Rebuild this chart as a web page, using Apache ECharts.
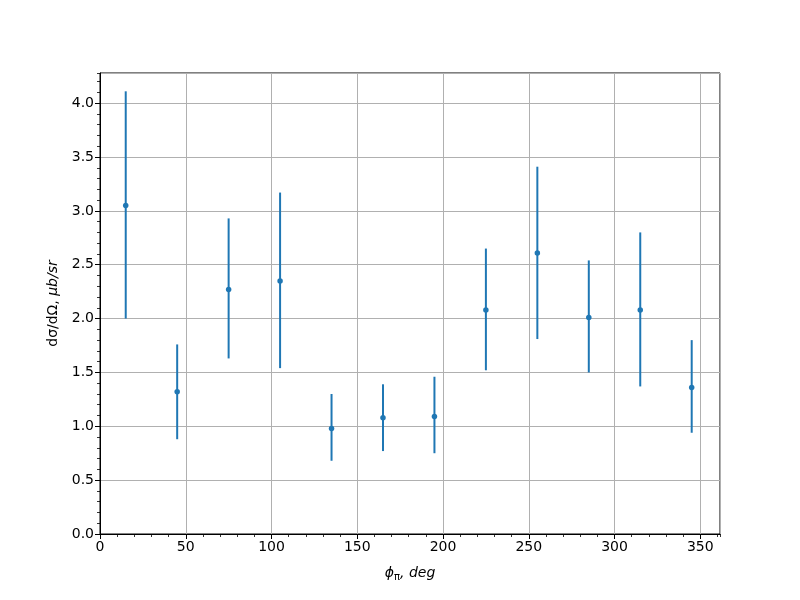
<!DOCTYPE html>
<html>
<head>
<meta charset="utf-8">
<script src="https://cdn.jsdelivr.net/npm/echarts@6/dist/echarts.min.js"></script>
<style>html,body{margin:0;padding:0;background:#fff}#c{width:800px;height:600px}</style>
</head>
<body>
<div id="c"></div>
<script>
const phi = [15, 45, 75, 105, 135, 165, 195, 225, 255, 285, 315, 345];
const xsec = [3.05, 1.32, 2.27, 2.35, 0.98, 1.08, 1.09, 2.08, 2.61, 2.01, 2.08, 1.36];
const errLow = [2.00, 0.88, 1.63, 1.54, 0.68, 0.77, 0.75, 1.52, 1.81, 1.50, 1.37, 0.94];
const errHigh = [4.11, 1.76, 2.93, 3.17, 1.30, 1.39, 1.46, 2.65, 3.41, 2.54, 2.80, 1.80];

const X_MIN = 0, X_MAX = 361.5, Y_MIN = 0, Y_MAX = 4.28;
const C = '#1f77b4';
const font = 'DejaVu Sans';

const points = phi.map((p, i) => [p, xsec[i]]);
const bars = phi.map((p, i) => [p, errLow[i], errHigh[i]]);

const chart = echarts.init(document.getElementById('c'), null, {renderer: 'canvas'});
chart.setOption({
  animation: false,
  backgroundColor: '#fff',
  grid: {left: 100, right: 80, top: 73, bottom: 66, show: true, borderColor: '#000', borderWidth: 1, backgroundColor: 'transparent'},
  xAxis: [
    {
      type: 'value', min: X_MIN, max: X_MAX, interval: 50, position: 'bottom',
      name: '{i|ϕ}{s|π}{i|, deg}', nameLocation: 'middle', nameGap: 30,
      nameTextStyle: {
        rich: {
          i: {fontFamily: font, fontStyle: 'italic', fontSize: 14, color: '#000'},
          s: {fontFamily: font, fontSize: 10, color: '#000', verticalAlign: 'bottom', padding: [8, 0, 0, 0]}
        }
      },
      axisLine: {show: true, onZero: false, lineStyle: {color: '#000', width: 1}},
      axisTick: {show: true, length: 5, lineStyle: {color: '#000', width: 1}},
      axisLabel: {fontFamily: font, fontSize: 14, color: '#000', margin: 6, showMaxLabel: false},
      splitLine: {show: true, lineStyle: {color: '#b0b0b0', width: 1}}
    },
    {
      type: 'value', min: X_MIN, max: X_MAX, interval: 10, position: 'bottom',
      axisLine: {show: false}, axisLabel: {show: false}, splitLine: {show: false},
      axisTick: {show: true, length: 3, lineStyle: {color: '#000', width: 0.8}}
    }
  ],
  yAxis: [
    {
      type: 'value', min: Y_MIN, max: Y_MAX, interval: 0.5, position: 'left',
      name: '{n|dσ/dΩ, }{i|μb/sr}', nameLocation: 'middle', nameGap: 40, nameRotate: 90,
      nameTextStyle: {
        rich: {
          n: {fontFamily: font, fontSize: 14, color: '#000'},
          i: {fontFamily: font, fontStyle: 'italic', fontSize: 14, color: '#000'}
        }
      },
      axisLine: {show: true, onZero: false, lineStyle: {color: '#000', width: 1}},
      axisTick: {show: true, length: 5, lineStyle: {color: '#000', width: 1}},
      axisLabel: {fontFamily: font, fontSize: 14, color: '#000', margin: 6, showMaxLabel: false,
        formatter: v => v.toFixed(1)},
      splitLine: {show: true, lineStyle: {color: '#b0b0b0', width: 1}}
    },
    {
      type: 'value', min: Y_MIN, max: Y_MAX, interval: 0.1, position: 'left',
      axisLine: {show: false}, axisLabel: {show: false}, splitLine: {show: false},
      axisTick: {show: true, length: 3, lineStyle: {color: '#000', width: 0.8}}
    }
  ],
  series: [
    {
      type: 'custom', xAxisIndex: 0, yAxisIndex: 0, data: bars,
      renderItem: function (params, api) {
        const a = api.coord([api.value(0), api.value(1)]);
        const b = api.coord([api.value(0), api.value(2)]);
        return {type: 'line', shape: {x1: a[0], y1: a[1], x2: b[0], y2: b[1]},
          style: {stroke: C, lineWidth: 2}};
      },
      encode: {x: 0, y: [1, 2]}, z: 3
    },
    {
      type: 'scatter', xAxisIndex: 0, yAxisIndex: 0, data: points,
      symbol: 'circle', symbolSize: 5.5, itemStyle: {color: C, opacity: 1}, z: 4
    }
  ]
});
</script>
</body>
</html>
